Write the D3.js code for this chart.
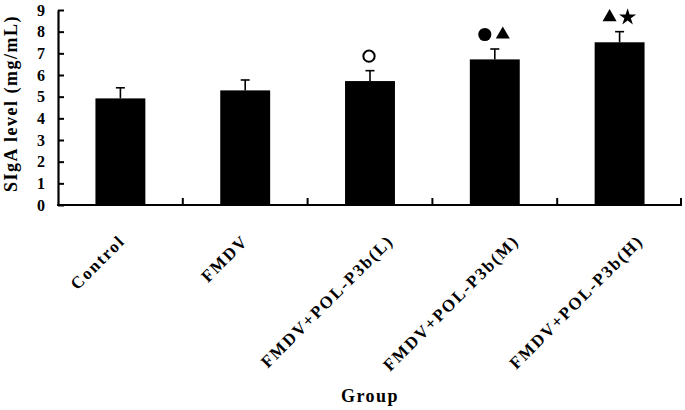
<!DOCTYPE html>
<html>
<head>
<meta charset="utf-8">
<script src="https://cdn.jsdelivr.net/npm/d3@7"></script>
<style>
  html, body { margin: 0; padding: 0; background: #fff; }
  svg { display: block; }
</style>
</head>
<body>
<div id="chart"></div>
<script>
(function () {
  "use strict";

  // ── Data ────────────────────────────────────────────────────────────────
  const groups  = ["Control", "FMDV", "FMDV+POL-P3b(L)", "FMDV+POL-P3b(M)", "FMDV+POL-P3b(H)"];
  const means   = [4.92, 5.29, 5.72, 6.72, 7.51];
  const errors  = [0.49, 0.48, 0.48, 0.48, 0.49];
  // significance marks per group
  const marks   = [[], [], ["circleOpen"], ["circle", "triangle"], ["triangle", "star"]];
  const yTicks  = [0, 1, 2, 3, 4, 5, 6, 7, 8, 9];

  const W = 685, H = 410;
  const margin = { top: 10, right: 3, bottom: 205, left: 58 };
  const FONT = "'Liberation Serif', 'Times New Roman', serif";

  const svg = d3.select("#chart").append("svg")
    .attr("width", W).attr("height", H);

  const x = d3.scaleBand().domain(groups)
    .range([margin.left, W - margin.right]).paddingInner(0).paddingOuter(0);
  const y = d3.scaleLinear().domain([0, 9]).range([H - margin.bottom, margin.top]);

  const barW = x.bandwidth() * 0.4;

  // Bars
  svg.selectAll("rect.bar").data(groups).enter().append("rect")
    .attr("class", "bar")
    .attr("x", (d) => x(d) + x.bandwidth() / 2 - barW / 2)
    .attr("y", (d, i) => y(means[i]))
    .attr("width", barW)
    .attr("height", (d, i) => y(0) - y(means[i]))
    .attr("fill", "#000");

  // Error bars (upper only)
  groups.forEach(function (g, i) {
    const cx = x(g) + x.bandwidth() / 2;
    svg.append("line")
      .attr("x1", cx).attr("x2", cx)
      .attr("y1", y(means[i])).attr("y2", y(means[i] + errors[i]))
      .attr("stroke", "#000").attr("stroke-width", 1.6);
    svg.append("line")
      .attr("x1", cx - 4.5).attr("x2", cx + 4.5)
      .attr("y1", y(means[i] + errors[i])).attr("y2", y(means[i] + errors[i]))
      .attr("stroke", "#000").attr("stroke-width", 1.6);
  });

  // Significance marks
  const symType = { circleOpen: d3.symbolCircle, circle: d3.symbolCircle,
                    triangle: d3.symbolTriangle, star: d3.symbolStar };
  const symSize = { circleOpen: 100, circle: 135, triangle: 85, star: 90 };
  groups.forEach(function (g, i) {
    const m = marks[i];
    const cx = x(g) + x.bandwidth() / 2;
    const step = 18;
    m.forEach(function (k, j) {
      const sx = cx - 1 + (j - (m.length - 1) / 2) * step;
      const sy = y(means[i] + errors[i]) - 14.5;
      svg.append("path")
        .attr("d", d3.symbol().type(symType[k]).size(symSize[k])())
        .attr("transform", `translate(${sx},${sy})`)
        .attr("fill", k === "circleOpen" ? "none" : "#000")
        .attr("stroke", "#000")
        .attr("stroke-width", k === "circleOpen" ? 2 : 0);
    });
  });

  // Y axis
  const yAxis = svg.append("g")
    .attr("transform", `translate(${margin.left},0)`)
    .call(d3.axisLeft(y).tickValues(yTicks).tickSizeInner(-6).tickSizeOuter(0).tickPadding(13));
  yAxis.select(".domain").attr("stroke", "#000").attr("stroke-width", 2.2);
  yAxis.selectAll(".tick line").attr("stroke", "#000").attr("stroke-width", 2);
  yAxis.selectAll(".tick text")
    .attr("font-family", FONT).attr("font-size", 16).attr("font-weight", "bold")
    .attr("fill", "#000");

  // X axis line + boundary ticks
  svg.append("line")
    .attr("x1", margin.left - 1).attr("x2", W - margin.right)
    .attr("y1", y(0)).attr("y2", y(0))
    .attr("stroke", "#000").attr("stroke-width", 2.2);
  const bounds = groups.slice(1).map((g) => x(g)).concat([W - margin.right - 1]);
  svg.selectAll("line.xtick").data(bounds).enter().append("line")
    .attr("class", "xtick")
    .attr("x1", (d) => d).attr("x2", (d) => d)
    .attr("y1", y(0)).attr("y2", y(0) - 7)
    .attr("stroke", "#000").attr("stroke-width", 2);

  // X category labels, rotated -45
  groups.forEach(function (g) {
    const cx = x(g) + x.bandwidth() / 2;
    const t = svg.append("text")
      .attr("font-family", FONT).attr("font-size", 17).attr("font-weight", "bold")
      .attr("letter-spacing", 1.8)
      .attr("fill", "#000")
      .attr("text-anchor", "end")
      .text(g);
    const len = t.node().getComputedTextLength();
    const dx = 0.17 * len - 6;
    t.attr("transform", `translate(${cx + dx},${y(0) + 37}) rotate(-45)`);
  });

  // Axis titles
  svg.append("text")
    .attr("transform", `translate(17,${(y(0) + y(9)) / 2 - 4}) rotate(-90)`)
    .attr("text-anchor", "middle")
    .attr("font-family", FONT).attr("font-size", 18).attr("font-weight", "bold")
    .attr("letter-spacing", 1.5)
    .attr("fill", "#000")
    .text("SIgA level (mg/mL)");

  svg.append("text")
    .attr("x", (margin.left + W - margin.right) / 2)
    .attr("y", 402)
    .attr("text-anchor", "middle")
    .attr("font-family", FONT).attr("font-size", 18).attr("font-weight", "bold")
    .attr("letter-spacing", 1.5)
    .attr("fill", "#000")
    .text("Group");
})();
</script>
</body>
</html>
